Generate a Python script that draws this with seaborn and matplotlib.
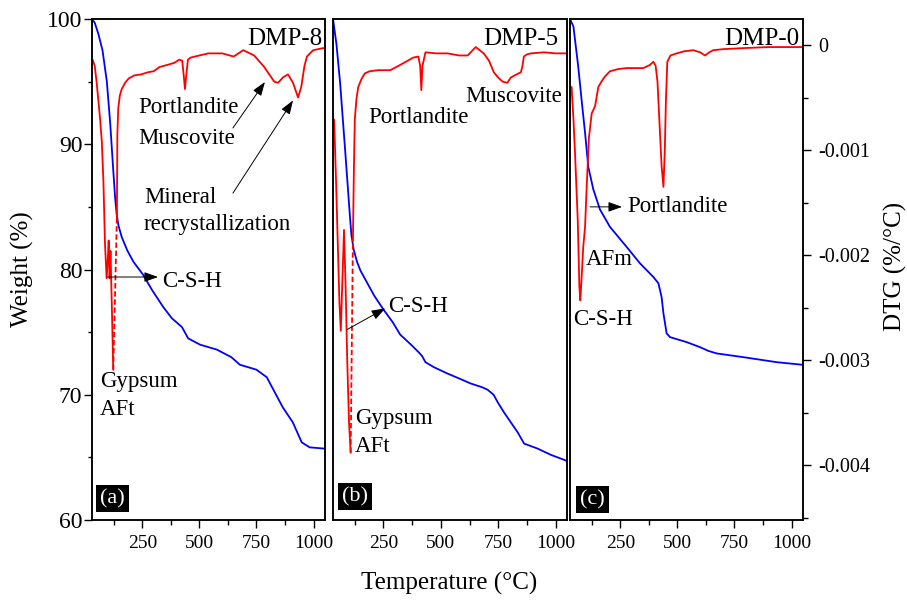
import matplotlib
matplotlib.use("Agg")
import matplotlib.pyplot as plt
import seaborn as sns

sns.set_style("ticks")
plt.rcParams["font.family"] = ["Liberation Serif", "DejaVu Serif"]
plt.rcParams["axes.edgecolor"] = "black"
plt.rcParams["axes.linewidth"] = 1.0
plt.rcParams["xtick.color"] = "black"
plt.rcParams["ytick.color"] = "black"
plt.rcParams["text.color"] = "black"
plt.rcParams["axes.labelcolor"] = "black"

# ---------------- data ----------------
samples = ["DMP-8", "DMP-5", "DMP-0"]
panel_tags = ["(a)", "(b)", "(c)"]

x_ticks = [250, 500, 750, 1000]
x_minor = [125, 375, 625, 875]
w_ticks = [60, 70, 80, 90, 100]
w_minor = [65, 75, 85, 95]
dtg_ticks = [0, -0.001, -0.002, -0.003, -0.004]
dtg_tick_labels = ["0", "-0.001", "-0.002", "-0.003", "-0.004"]
dtg_minor = [-0.0005, -0.0015, -0.0025, -0.0035, -0.0045]

# DMP-8
T_a_tg = [30, 42, 58, 76, 95, 110, 122, 131, 138, 146, 160, 185, 212, 253, 295, 342, 380, 424, 451, 503,
          577, 640, 677, 750, 795, 830, 865, 909, 948, 983, 1048]
W_a_tg = [100.0, 99.7, 98.8, 97.5, 95.0, 91.6, 88.2, 85.8, 84.4, 83.5, 82.6, 81.5, 80.6, 79.6, 78.3, 77.0, 76.1, 75.4, 74.5, 74.0,
          73.6, 73.0, 72.4, 72.0, 71.4, 70.2, 69.0, 67.8, 66.2, 65.8, 65.7]
T_a_dtg1 = [33, 42, 50, 58, 66, 73, 80, 87, 94, 99, 103, 107, 111, 117, 123]
D_a_dtg1 = [-0.00014, -0.00020, -0.00035, -0.00053, -0.00072, -0.00092, -0.00130, -0.00190, -0.00222, -0.00205,
            -0.00186, -0.00222, -0.00196, -0.00250, -0.00309]
T_a_dash = [123, 131, 139]
D_a_dash = [-0.00309, -0.00237, -0.00164]
T_a_dtg2 = [139, 141, 145, 152, 160, 175, 190, 215, 245, 275, 300, 325, 360, 390, 412, 425, 432, 437, 442, 450,
            462, 500, 540, 600, 650, 692, 740, 784, 828, 845, 865, 888, 910, 932, 946, 960, 971, 998, 1041, 1048]
D_a_dtg2 = [-0.00164, -0.00085, -0.00060, -0.00048, -0.00042, -0.00036, -0.00032, -0.00029, -0.00028, -0.00026,
            -0.00025, -0.00021, -0.00019, -0.00017, -0.00014, -0.00015, -0.00030, -0.00042, -0.00030, -0.00014,
            -0.00012, -0.00010, -0.00008, -0.00008, -0.00011, -0.00005, -0.00010, -0.00021, -0.00035, -0.00036,
            -0.00031, -0.00028, -0.00036, -0.00050, -0.00040, -0.00020, -0.00011, -0.00005, -0.00003, -0.00003]

# DMP-5
T_b_tg = [30, 45, 61, 83, 104, 110, 120, 135, 150, 180, 210, 250, 290, 323, 370, 403, 418, 433, 470, 528,
          580, 630, 680, 704, 730, 748, 775, 805, 835, 863, 922, 980, 1038, 1050]
W_b_tg = [100.0, 98.0, 94.9, 89.5, 84.2, 82.8, 81.6, 80.6, 79.9, 78.9, 77.9, 76.8, 75.8, 74.8, 74.0, 73.4, 73.1, 72.6, 72.2, 71.7,
          71.3, 70.9, 70.6, 70.4, 70.0, 69.4, 68.6, 67.8, 67.0, 66.1, 65.7, 65.2, 64.8, 64.7]
T_b_dtg1 = [35, 44, 52, 58, 64, 70, 78, 85, 92, 100, 107]
D_b_dtg1 = [-0.00071, -0.00135, -0.00198, -0.00245, -0.00272, -0.00230, -0.00176, -0.00230, -0.00300, -0.00360, -0.00388]
T_b_dash = [107, 112, 117]
D_b_dash = [-0.00388, -0.00285, -0.00183]
T_b_dtg2 = [117, 121, 125, 132, 140, 155, 169, 190, 227, 280, 323, 380, 402, 410, 415, 420, 433, 480, 529, 580,
            617, 652, 687, 710, 731, 750, 770, 790, 805, 830, 849, 856, 862, 875, 893, 950, 1000, 1037, 1050]
D_b_dtg2 = [-0.00183, -0.00120, -0.00071, -0.00052, -0.00040, -0.00032, -0.00027, -0.00025, -0.00024, -0.00024,
            -0.00019, -0.00012, -0.00011, -0.00020, -0.00043, -0.00020, -0.00007, -0.00008, -0.00008, -0.00010,
            -0.00010, -0.00002, -0.00008, -0.00015, -0.00026, -0.00031, -0.00035, -0.00036, -0.00031, -0.00028,
            -0.00026, -0.00020, -0.00011, -0.00009, -0.00008, -0.00007, -0.00008, -0.00008, -0.00008]

# DMP-0
T_c_tg = [30, 45, 66, 81, 96, 110, 132, 161, 205, 278, 336, 395, 417, 431, 439, 453, 468, 541, 599, 636,
          672, 789, 935, 1044]
W_c_tg = [100.0, 99.4, 96.2, 93.5, 90.9, 88.2, 86.4, 84.8, 83.4, 81.8, 80.5, 79.4, 78.9, 77.8, 76.5, 74.9, 74.6, 74.2, 73.8, 73.5,
          73.3, 73.0, 72.6, 72.4]
T_c_dtg = [37, 45, 52, 58, 64, 71, 75, 80, 88, 96, 103, 113, 125, 132, 140, 154, 170, 183, 205, 240,
           278, 320, 351, 380, 395, 405, 413, 424, 431, 439, 445, 450, 456, 470, 497, 530, 570, 600, 621, 640,
           657, 700, 788, 900, 1037, 1050]
D_c_dtg = [-0.00040, -0.00070, -0.00103, -0.00135, -0.00167, -0.00230, -0.00243, -0.00225, -0.00192, -0.00173,
           -0.00135, -0.00088, -0.00065, -0.00062, -0.00058, -0.00040, -0.00034, -0.00030, -0.00025, -0.00023,
           -0.00022, -0.00022, -0.00022, -0.00019, -0.00016, -0.00020, -0.00035, -0.00084, -0.00115, -0.00135,
           -0.00100, -0.00052, -0.00016, -0.00010, -0.00008, -0.00006, -0.00005, -0.00007, -0.00010, -0.00007,
           -0.00005, -0.00004, -0.00003, -0.00002, -0.00002, -0.00002]

tg_series = [(T_a_tg, W_a_tg), (T_b_tg, W_b_tg), (T_c_tg, W_c_tg)]
dtg_series = [
    [(T_a_dtg1, D_a_dtg1, "-"), (T_a_dash, D_a_dash, (0, (3, 1.5))), (T_a_dtg2, D_a_dtg2, "-")],
    [(T_b_dtg1, D_b_dtg1, "-"), (T_b_dash, D_b_dash, (0, (3, 1.5))), (T_b_dtg2, D_b_dtg2, "-")],
    [(T_c_dtg, D_c_dtg, "-")],
]

# ---------------- layout ----------------
FW, FH = 907, 600
panel_px = [(92, 233), (333, 234), (570, 233)]
top_px, bot_px = 19, 520

# labels: (text, T, W, ha, fontsize)
panel_texts = [
    [("DMP-8", 1037, 97.92, "right", 18), ("Portlandite", 231, 92.5, "left", 16.5),
     ("Muscovite", 231, 90.0, "left", 16.5), ("Mineral", 257, 85.3, "left", 16.5),
     ("recrystallization", 257, 83.15, "left", 16.5), ("C-S-H", 336, 78.6, "left", 16.5),
     ("Gypsum", 65, 70.6, "left", 16.5), ("AFt", 65, 68.4, "left", 16.5)],
    [("DMP-5", 1011, 97.92, "right", 18), ("Portlandite", 183, 91.7, "left", 16.5),
     ("Muscovite", 608, 93.37, "left", 16.5), ("C-S-H", 271, 76.6, "left", 16.5),
     ("Gypsum", 126, 67.7, "left", 16.5), ("AFt", 126, 65.4, "left", 16.5)],
    [("DMP-0", 1033, 97.92, "right", 18), ("Portlandite", 280, 84.6, "left", 16.5),
     ("AFm", 100, 80.36, "left", 16.5), ("C-S-H", 43, 75.57, "left", 16.5)],
]
# arrows: (start T, start W, tip T, tip W)
panel_arrows = [
    [(647, 91.3, 787, 94.97), (647, 86.1, 910, 93.5), (98, 79.4, 319, 79.4)],
    [(91, 75.2, 258, 76.9)],
    [(118, 85.0, 258, 85.0)],
]
tag_pos = [(0.088, 0.043), (0.094, 0.047), (0.097, 0.041)]

fig = plt.figure(figsize=(FW / 100, FH / 100), dpi=100)
axes = []
for i, (lpx, wpx) in enumerate(panel_px):
    ax = fig.add_axes([lpx / FW, (FH - bot_px) / FH, wpx / FW, (bot_px - top_px) / FH])
    ax2 = ax.twinx()
    T_tg, W_tg = tg_series[i]
    sns.lineplot(x=T_tg, y=W_tg, ax=ax, color="#0000ff", linewidth=1.3,
                 sort=False, estimator=None)
    for T_d, D_d, ls in dtg_series[i]:
        sns.lineplot(x=T_d, y=D_d, ax=ax2, color="#ff0000", linewidth=1.3,
                     sort=False, estimator=None, linestyle=ls)

    ax.set_xlim(30, 1050)
    ax.set_ylim(60, 100)
    ax2.set_ylim(-0.00452, 0.000247)
    ax.set_xlabel("")
    ax.set_ylabel("")
    ax2.set_ylabel("")

    ax.set_xticks(x_ticks, labels=[str(v) for v in x_ticks])
    ax.set_xticks(x_minor, minor=True)
    ax.tick_params(axis="x", which="major", direction="out", length=6, width=1,
                   labelsize=14, pad=5, top=False)
    ax.tick_params(axis="x", which="minor", direction="out", length=3.5, width=1, top=False)

    ax.set_yticks(w_ticks, labels=[str(v) for v in w_ticks])
    ax.set_yticks(w_minor, minor=True)
    if i == 0:
        ax.tick_params(axis="y", which="major", direction="out", length=6, width=1,
                       labelsize=17, pad=1)
        ax.tick_params(axis="y", which="minor", direction="out", length=3, width=1)
    else:
        ax.tick_params(axis="y", which="both", left=False, labelleft=False)

    ax2.set_yticks(dtg_ticks, labels=dtg_tick_labels)
    ax2.set_yticks(dtg_minor, minor=True)
    if i == 2:
        ax2.tick_params(axis="y", which="major", direction="out", length=6, width=1,
                        labelsize=14.5, pad=5)
        ax2.tick_params(axis="y", which="minor", direction="out", length=3.5, width=1)
    else:
        ax2.tick_params(axis="y", which="both", right=False, labelright=False)

    for s in list(ax.spines.values()) + list(ax2.spines.values()):
        s.set_color("black")
        s.set_linewidth(1.1)

    for txt, tx, ty, ha, fs in panel_texts[i]:
        ax2.text(tx, ty, txt, transform=ax.transData, ha=ha, va="baseline",
                 fontsize=fs, zorder=10)
    for sx, sy, ex, ey in panel_arrows[i]:
        ax2.annotate("", xy=(ex, ey), xytext=(sx, sy), xycoords=ax.transData,
                     textcoords=ax.transData,
                     arrowprops=dict(arrowstyle="-|>,head_length=0.7,head_width=0.25",
                                     color="black", lw=0.7, shrinkA=0, shrinkB=0,
                                     mutation_scale=12), zorder=10)
    tx, ty = tag_pos[i]
    ax2.text(tx, ty, panel_tags[i], transform=ax.transAxes, color="white", fontsize=16,
             ha="center", va="center", zorder=10,
             bbox=dict(boxstyle="square,pad=0.18", fc="black", ec="none"))
    axes.append((ax, ax2))

axes[0][0].set_ylabel("Weight (%)", fontsize=18)
axes[0][0].yaxis.set_label_coords(-0.249, 0.5)
axes[2][1].set_ylabel("DTG (%/°C)", fontsize=18)
axes[2][1].yaxis.set_label_coords(1.348, 0.507)
axes[1][0].set_xlabel("Temperature (°C)", fontsize=18)
axes[1][0].xaxis.set_label_coords(0.496, -0.104)

fig.savefig("out.png", dpi=100)
